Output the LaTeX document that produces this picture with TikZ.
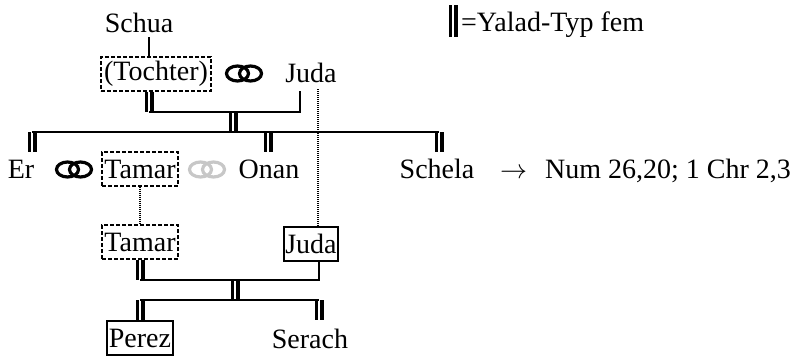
\documentclass[tikz,border=0pt]{standalone}
\usepackage{fontspec}
\usepackage{graphicx}
\setmainfont{Liberation Serif}
\begin{document}
\begin{tikzpicture}[x=1pt,y=-1pt,
  font=\fontsize{28}{30}\selectfont,
  thin/.style={line width=1.2pt},
  dbl/.style={draw=black,double=white,double distance=2pt,line width=3.5pt},
  dbox/.style={draw,line width=1.3pt,dash pattern=on 4pt off 2pt,inner sep=0pt,minimum height=34pt},
  sbox/.style={draw,line width=1.2pt,inner sep=0pt,minimum height=34pt},
  dots/.style={line width=1.5pt,dash pattern=on 1pt off 1pt},
  txt/.style={inner sep=0pt,anchor=base},
  ring/.style={line width=3.2pt}
]
\useasboundingbox (0,0) rectangle (801,356);

% nodes
\node[txt] (schua) at (139,32) {Schua};
\node[dbox,minimum width=110pt] (tochter) at (156,74) {(Tochter)};
\node[txt] (juda) at (311,82) {Juda};
\node[txt] (er) at (21,178) {Er};
\node[dbox,minimum width=76pt] (tamarA) at (140,169) {Tamar};
\node[txt] (onan) at (269,178) {Onan};
\node[txt] (schela) at (437,178) {Schela};
\node[txt,anchor=base west] (ref) at (500,178) {\resizebox{27pt}{!}{$\rightarrow$}\hspace{18pt}Num 26,20; 1 Chr 2,3};
\node[dbox,minimum width=76pt] (tamarB) at (140,242) {Tamar};
\node[sbox,minimum width=54pt] (judaB) at (311,244) {Juda};
\node[sbox,minimum width=66pt] (perez) at (140,338) {Perez};
\node[txt] (serach) at (310,348) {Serach};
\node[txt,anchor=base west] (legend) at (461,31) {=Yalad-Typ fem};

% rings
\draw[ring] (237.5,73.5) ellipse (11 and 7.5);
\draw[ring] (250.5,73.5) ellipse (11 and 7.5);
\draw[ring] (67.5,169.5) ellipse (11 and 7.5);
\draw[ring] (80.5,169.5) ellipse (11 and 7.5);
\draw[ring,draw=black!22] (200.5,169.5) ellipse (11 and 7.5);
\draw[ring,draw=black!22] (213.5,169.5) ellipse (11 and 7.5);

% coordinates
\coordinate (s1) at (149,37);
\coordinate (a1) at (149,112);
\coordinate (a2) at (300,112);
\coordinate (a3) at (300,91);
\coordinate (m1) at (233,112);
\coordinate (m2) at (233,132);
\coordinate (erT) at (32,132);
\coordinate (erB) at (32,152);
\coordinate (onT) at (268,132);
\coordinate (onB) at (268,152);
\coordinate (scT) at (439,132);
\coordinate (scB) at (439,152);
\coordinate (jd1) at (318,89);
\coordinate (b1) at (140,280);
\coordinate (b2) at (319,280);
\coordinate (n1) at (235,280);
\coordinate (n2) at (235,300);
\coordinate (c1) at (140,300);
\coordinate (c2) at (319,300);
\coordinate (c3) at (319,320);
\coordinate (lg1) at (453,5);
\coordinate (lg2) at (453,37);

% double bars
\draw[dbl] (a1 |- tochter.south) -- (a1);
\draw[dbl] (m1) -- (m2);
\draw[dbl] (erT) -- (erB);
\draw[dbl] (onT) -- (onB);
\draw[dbl] (scT) -- (scB);
\draw[dbl] (tamarB.south) -- (b1);
\draw[dbl] (n1) -- (n2);
\draw[dbl] (c1) -- (perez.north);
\draw[dbl] (c2) -- (c3);
\draw[dbl] (lg1) -- (lg2);

% thin lines
\draw[thin] (s1) -- (s1 |- tochter.north);
\draw[thin] (a1) -- (a2) -- (a3);
\draw[thin] (erT) -- (scT);
\draw[thin] (b2 |- judaB.south) -- (b2) -- (b1);
\draw[thin] (c1) -- (c2);

% dotted
\draw[dots] (tamarA.south) -- (tamarB.north);
\draw[dots] (jd1) -- (jd1 |- judaB.north);
\end{tikzpicture}
\end{document}
